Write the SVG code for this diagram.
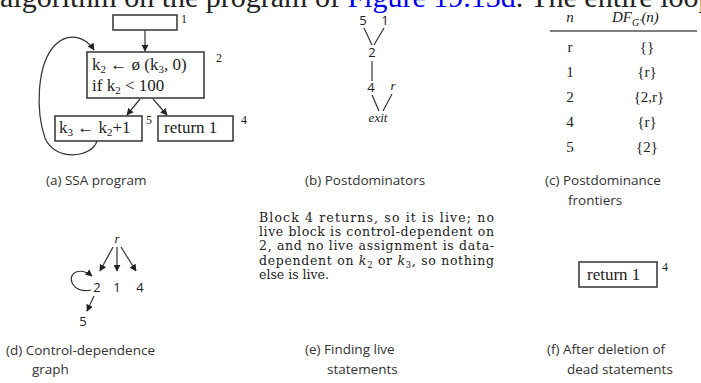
<svg xmlns="http://www.w3.org/2000/svg" width="701" height="383" viewBox="0 0 701 383">
<defs>
<marker id="ah" viewBox="0 0 10 10" refX="9" refY="5" markerWidth="7" markerHeight="7" orient="auto" markerUnits="userSpaceOnUse">
<path d="M0,0 L10,5 L0,10 z" fill="#222"/>
</marker>
<style>
.ser{font-family:"Liberation Serif","Times New Roman",serif;fill:#222}
.code{font-family:"Liberation Serif","Times New Roman",serif;font-size:17px;fill:#222}
.lbl{font-family:"Liberation Serif","Times New Roman",serif;font-size:12px;fill:#222}
.cap{font-family:"Open Sans","Noto Sans",sans-serif;font-size:13.5px;fill:#333}
.sn{font-family:"Open Sans","Noto Sans",sans-serif;font-size:13px;fill:#222}
.it{font-family:"Liberation Serif","Times New Roman",serif;font-style:italic;fill:#222}
.box{fill:#fff;stroke:#333;stroke-width:1.5}
.ln{stroke:#333;stroke-width:1.2;fill:none}
.ar{stroke:#333;stroke-width:1.2;fill:none;marker-end:url(#ah)}
.par{font-family:"DejaVu Serif","Liberation Serif",serif;font-size:12.5px;fill:#222}
</style>
</defs>
<rect width="701" height="383" fill="#fff"/>

<text class="ser" x="0" y="7" font-size="30">algorithm on the program of <tspan fill="#0000ee">Figure 19.13d</tspan>. The entire loop</text>

<!-- (a) SSA program -->
<g id="block1"><rect class="box" x="113" y="15" width="64" height="15"/><text class="lbl" x="181" y="23">1</text></g>
<g id="block2"><rect class="box" x="87" y="52" width="117" height="46"/>
<text class="code" x="92" y="70">k<tspan font-size="11" dy="3">2</tspan><tspan dy="-3"> ← ø (k</tspan><tspan font-size="11" dy="3">3</tspan><tspan dy="-3">, 0)</tspan></text>
<text class="code" x="92" y="91">if k<tspan font-size="11" dy="3">2</tspan><tspan dy="-3"> &lt; 100</tspan></text>
<text class="lbl" x="216" y="62">2</text></g>
<g id="block5"><rect class="box" x="55" y="116" width="87" height="25"/>
<text class="code" x="59" y="133">k<tspan font-size="11" dy="3">3</tspan><tspan dy="-3"> ← k</tspan><tspan font-size="11" dy="3">2</tspan><tspan dy="-3">+1</tspan></text>
<text class="lbl" x="146" y="124">5</text></g>
<g id="block4"><rect class="box" x="158" y="116" width="75" height="25"/>
<text class="code" x="164" y="133">return 1</text>
<text class="lbl" x="241" y="124">4</text></g>
<text class="cap" x="46" y="185">(a) SSA program</text>

<g id="connectors-a">
<line class="ar" x1="145" y1="30" x2="145" y2="51"/>
<line class="ar" x1="140" y1="99" x2="127" y2="115"/>
<line class="ar" x1="153" y1="99" x2="167" y2="115"/>
<path class="ar" d="M97,141 C92,158 55,162 45,138 C36,112 36,65 55,45 C68,32 85,36 94,50"/>
</g>

<!-- (b) Postdominators -->
<g id="pd5"><text class="sn" x="363" y="25" text-anchor="middle">5</text></g>
<g id="pd1"><text class="sn" x="385" y="25" text-anchor="middle">1</text></g>
<g id="pd2"><text class="sn" x="372" y="57" text-anchor="middle">2</text></g>
<g id="pd4"><text class="sn" x="371" y="92" text-anchor="middle">4</text></g>
<g id="pdr"><text class="it" font-size="13" x="393" y="90" text-anchor="middle">r</text></g>
<g id="pdexit"><text class="it" font-size="13" x="378" y="122" text-anchor="middle">exit</text></g>
<g id="connectors-b">
<line class="ln" x1="364" y1="28" x2="372" y2="45"/>
<line class="ln" x1="384" y1="28" x2="374" y2="45"/>
<line class="ln" x1="372" y1="61" x2="372" y2="81"/>
<line class="ln" x1="372" y1="95" x2="379" y2="111"/>
<line class="ln" x1="392" y1="94" x2="383" y2="111"/>
</g>
<text class="cap" x="305" y="185">(b) Postdominators</text>

<!-- (c) table -->
<g id="table">
<text class="it" font-size="15" x="570" y="22" text-anchor="middle">n</text>
<text class="it" font-size="15" x="612" y="22">DF<tspan font-size="10" dy="4">G'</tspan><tspan dy="-4">(n)</tspan></text>
<line x1="550" y1="31" x2="697" y2="31" stroke="#555" stroke-width="1.5"/>
<text class="ser" font-size="15" x="570" y="52" text-anchor="middle">r</text>
<text class="ser" font-size="15" x="647" y="52" text-anchor="middle">{}</text>
<text class="ser" font-size="15" x="570" y="77" text-anchor="middle">1</text>
<text class="ser" font-size="15" x="647" y="77" text-anchor="middle">{r}</text>
<text class="ser" font-size="15" x="570" y="102" text-anchor="middle">2</text>
<text class="ser" font-size="15" x="649" y="102" text-anchor="middle">{2,r}</text>
<text class="ser" font-size="15" x="570" y="127" text-anchor="middle">4</text>
<text class="ser" font-size="15" x="647" y="127" text-anchor="middle">{r}</text>
<text class="ser" font-size="15" x="570" y="152" text-anchor="middle">5</text>
<text class="ser" font-size="15" x="647" y="152" text-anchor="middle">{2}</text>
</g>
<text class="cap" x="545" y="185">(c) Postdominance</text>
<text class="cap" x="568" y="205">frontiers</text>

<!-- (d) CDG -->
<g id="cdr"><text class="it" font-size="13" x="117" y="243" text-anchor="middle">r</text></g>
<g id="cd2"><text class="sn" x="97" y="292" text-anchor="middle">2</text></g>
<g id="cd1"><text class="sn" x="117" y="292" text-anchor="middle">1</text></g>
<g id="cd4"><text class="sn" x="140" y="292" text-anchor="middle">4</text></g>
<g id="cd5"><text class="sn" x="83" y="326" text-anchor="middle">5</text></g>
<g id="connectors-d">
<line class="ar" x1="113" y1="247" x2="100" y2="271"/>
<line class="ar" x1="117" y1="247" x2="117" y2="271"/>
<line class="ar" x1="121" y1="247" x2="136" y2="271"/>
<path class="ar" d="M91,290 C72,294 66,276 76,272 C82,270 87,272 92,276"/>
<line class="ar" x1="94" y1="296" x2="87" y2="311"/>
</g>
<text class="cap" x="6" y="355">(d) Control-dependence</text>
<text class="cap" x="32" y="374">graph</text>

<!-- (e) text -->
<g id="para">
<text class="par" x="259" y="222" textLength="235" lengthAdjust="spacing">Block 4 returns, so it is live; no</text>
<text class="par" x="259" y="236" textLength="235" lengthAdjust="spacing">live block is control-dependent on</text>
<text class="par" x="259" y="250" textLength="235" lengthAdjust="spacing">2, and no live assignment is data-</text>
<text class="par" x="259" y="265" textLength="235" lengthAdjust="spacing">dependent on <tspan font-style="italic">k</tspan><tspan font-size="8.5" dy="3">2</tspan><tspan dy="-3"> or </tspan><tspan font-style="italic">k</tspan><tspan font-size="8.5" dy="3">3</tspan><tspan dy="-3">, so nothing</tspan></text>
<text class="par" x="259" y="279">else is live.</text>
</g>
<text class="cap" x="305" y="354">(e) Finding live</text>
<text class="cap" x="327" y="374">statements</text>

<!-- (f) -->
<g id="block4f"><rect class="box" x="579" y="262" width="78" height="25"/>
<text class="code" x="587" y="280">return 1</text>
<text class="lbl" x="662" y="271">4</text></g>
<text class="cap" x="547" y="354">(f) After deletion of</text>
<text class="cap" x="567" y="374">dead statements</text>
</svg>
